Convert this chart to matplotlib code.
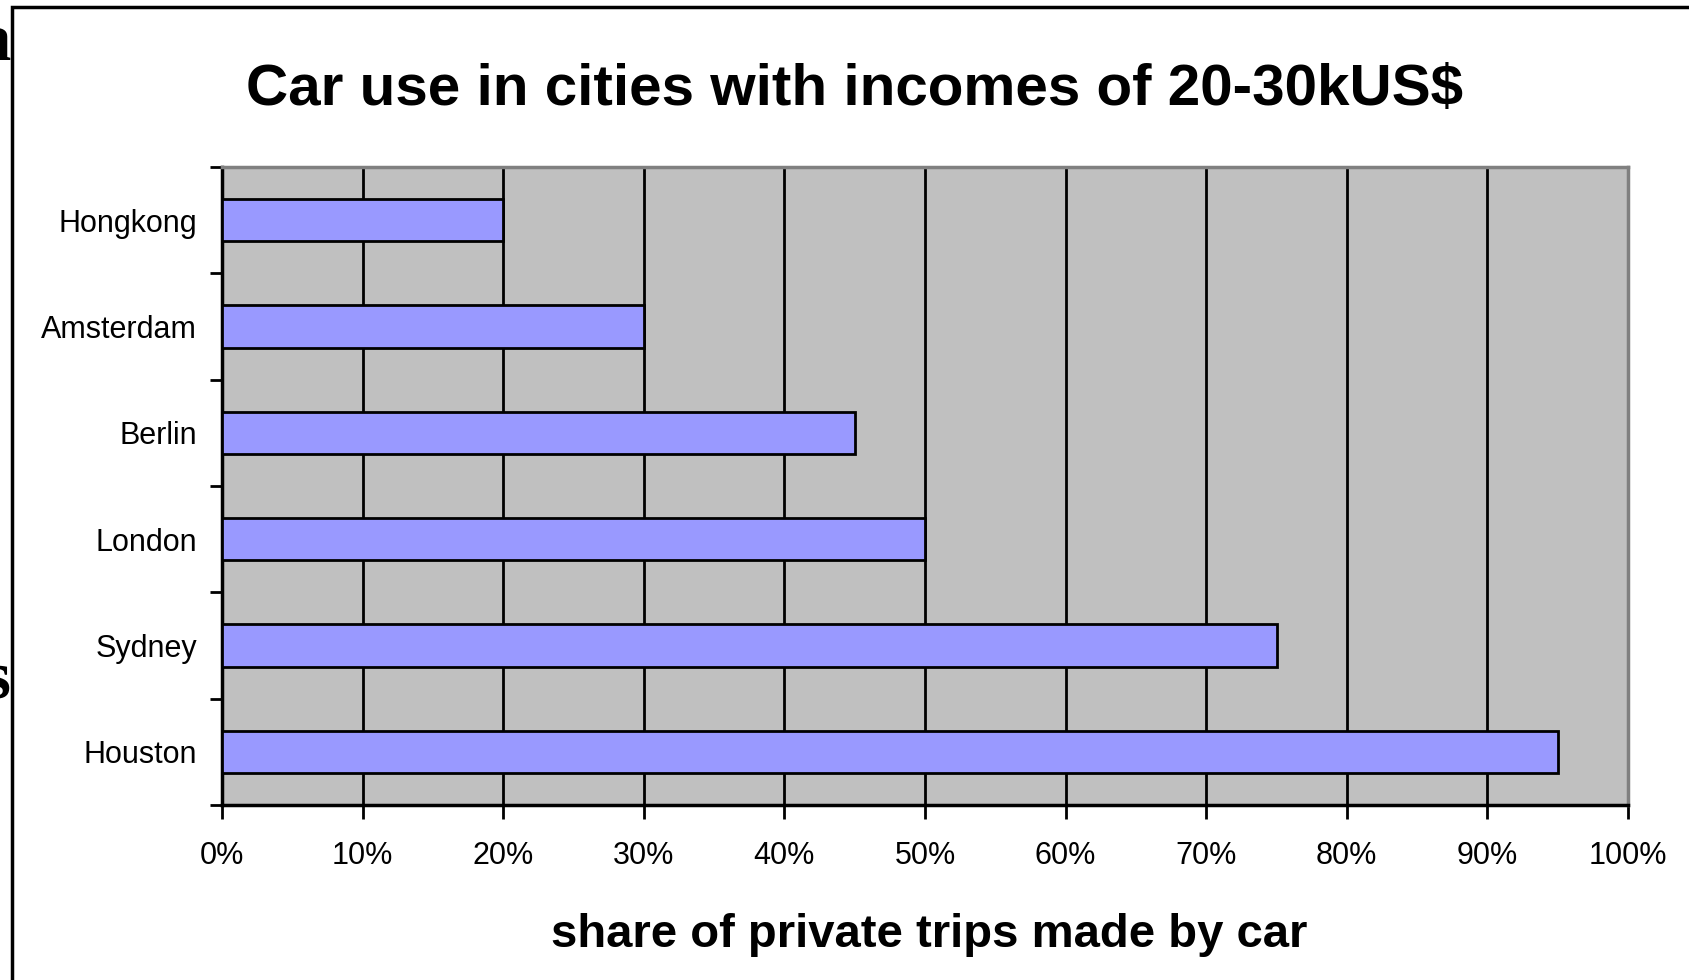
import matplotlib
matplotlib.use("Agg")
import matplotlib.pyplot as plt
from matplotlib.patches import Rectangle

cities = ["Hongkong", "Amsterdam", "Berlin", "London", "Sydney", "Houston"]
car_share = [20, 30, 45, 50, 75, 95]
x_ticks = [0, 10, 20, 30, 40, 50, 60, 70, 80, 90, 100]
x_tick_labels = [f"{v}%" for v in x_ticks]

title = "Car use in cities with incomes of 20-30kUS$"
x_label = "share of private trips made by car"

W, H = 1690, 980
fig = plt.figure(figsize=(W / 100, H / 100), dpi=100)


def fx(px):
    return px / W


def fy(py):
    return 1 - py / H


# letters of the slide text lying behind the chart object
fig.text(fx(11), fy(60), "a", fontsize=48, fontweight="bold", family="Liberation Serif",
         va="baseline", ha="right", zorder=-3)
fig.text(fx(11), fy(698), "s", fontsize=48, fontweight="bold", family="Liberation Serif",
         va="baseline", ha="right", zorder=-3)

# white chart object with its black frame, covering the slide text
fig.patches.append(Rectangle((fx(12), fy(1000)), fx(1720) - fx(12), fy(7) - fy(1000),
                             transform=fig.transFigure, facecolor="white", lw=2.5,
                             edgecolor="black", zorder=-1))

ax = fig.add_axes([fx(222), fy(805), fx(1628) - fx(222), fy(167) - fy(805)])
ax.set_facecolor("#C0C0C0")

y = list(range(len(cities)))
ax.barh(y, car_share, height=0.40, color="#9999FF", edgecolor="black", linewidth=2, zorder=3)

ax.set_xlim(0, 100)
ax.set_ylim(len(cities) - 0.5, -0.5)
ax.set_xticks(x_ticks)
ax.set_xticklabels(x_tick_labels, family="Liberation Sans", fontsize=22)
ax.set_yticks([i - 0.5 for i in range(len(cities) + 1)])
ax.set_yticklabels([])
ax.set_yticks(y, minor=True)
ax.set_yticklabels(cities, minor=True, family="Liberation Sans", fontsize=22)
ax.tick_params(axis="y", which="minor", length=0, pad=18)
ax.tick_params(axis="y", which="major", length=9, width=2)
ax.tick_params(axis="x", length=10, width=2, pad=16)

ax.grid(axis="x", color="black", linewidth=2, zorder=1)
ax.set_axisbelow(True)

for side in ("top", "right"):
    ax.spines[side].set_color("#808080")
    ax.spines[side].set_linewidth(2.5)
for side in ("left", "bottom"):
    ax.spines[side].set_color("black")
    ax.spines[side].set_linewidth(2.5)

fig.text(fx(855), fy(105), title, fontsize=42, fontweight="bold", family="Liberation Sans",
         ha="center", va="baseline")
fig.text(fx(929), fy(947), x_label, fontsize=34, fontweight="bold", family="Liberation Sans",
         ha="center", va="baseline")

fig.savefig("out.png", dpi=100)
